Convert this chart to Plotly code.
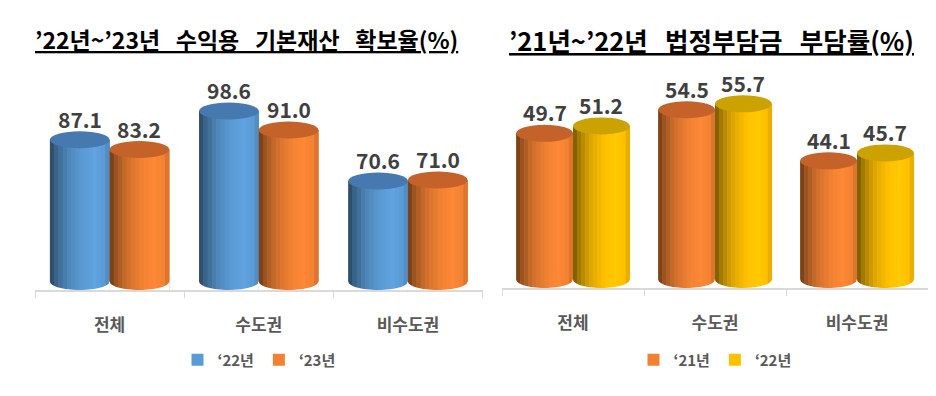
import plotly.graph_objects as go

# ---------------- data ----------------
categories = ["전체", "수도권", "비수도권"]

left_title = "’22년~’23년\u00a0\u00a0\u00a0수익용\u00a0\u00a0\u00a0기본재산\u00a0\u00a0\u00a0확보율(%)"
left_series_names = ["‘22년", "‘23년"]
left_22 = [87.1, 98.6, 70.6]
left_23 = [83.2, 91.0, 71.0]

right_title = "’21년~’22년\u00a0\u00a0\u00a0법정부담금\u00a0\u00a0\u00a0부담률(%)"
right_series_names = ["‘21년", "‘22년"]
right_21 = [49.7, 54.5, 44.1]
right_22 = [51.2, 55.7, 45.7]

# ---------------- style ----------------
FONT = "Noto Sans CJK KR"
BLUE, BLUE_TOP = "#5b9bd5", "#4679b0"
ORANGE, ORANGE_TOP = "#f28233", "#c4622a"
YELLOW, YELLOW_TOP = "#ffc000", "#cba200"
LABEL_C = "#404040"
AXIS_C = "#d9d9d9"
TICK_C = "#595959"

# page has an 8px body margin; figure is sized to fit the window
OFF = 8
W, H = 936 - OFF, 396 - OFF


def fx(X):
    return (X - OFF) / W


def fy(Y):
    return (OFF + H - Y) / H


BARGAP = 0.2
BW = (1 - BARGAP) / 2  # width of each bar in category units

left_range = [27, 111]
right_range = [18.2, 60.56]
left_ydom = [fy(290), fy(80)]
right_ydom = [fy(288), fy(80)]
left_xdom = [fx(35), fx(482.5)]
right_xdom = [fx(502), fx(928)]


def hex2rgb(h):
    h = h.lstrip("#")
    return tuple(int(h[i:i + 2], 16) for i in (0, 2, 4))


def shade(h, f):
    r, g, b = hex2rgb(h)
    return "rgb({},{},{})".format(*[max(0, min(255, int(round(c * f)))) for c in (r, g, b)])


PROFILE = [(0.0, 0.45), (0.12, 0.66), (0.3, 0.86), (0.55, 1.0), (0.75, 1.05), (0.9, 1.0), (1.0, 0.86)]


def profile(t):
    for (t0, f0), (t1, f1) in zip(PROFILE[:-1], PROFILE[1:]):
        if t0 <= t <= t1:
            return f0 + (f1 - f0) * (t - t0) / (t1 - t0)
    return 1.0


fig = go.Figure()
shapes = []
annotations = []

panels = [
    dict(xa="x", ya="y", rng=left_range, px_per_unit=210 / (left_range[1] - left_range[0]),
         series=[(left_series_names[0], left_22, BLUE, BLUE_TOP), (left_series_names[1], left_23, ORANGE, ORANGE_TOP)],
         legend="legend"),
    dict(xa="x2", ya="y2", rng=right_range, px_per_unit=208 / (right_range[1] - right_range[0]),
         series=[(right_series_names[0], right_21, ORANGE, ORANGE_TOP), (right_series_names[1], right_22, YELLOW, YELLOW_TOP)],
         legend="legend2"),
]

NSTRIP = 14
K = 0.5523
for p in panels:
    half_h = 8.5 / p["px_per_unit"]
    yb = p["rng"][0]
    for si, (name, vals, col, topcol) in enumerate(p["series"]):
        fig.add_trace(go.Bar(
            x=categories, y=vals, name=name, marker=dict(color=col, line=dict(width=0)),
            xaxis=p["xa"], yaxis=p["ya"], legend=p["legend"], hoverinfo="x+y+name",
        ))
        off = -BW / 2 if si == 0 else BW / 2
        for ci, v in enumerate(vals):
            xc = ci + off
            x0 = xc - BW / 2
            x1 = xc + BW / 2
            a = BW / 2
            # cylinder shading strips
            for k in range(NSTRIP):
                t = (k + 0.5) / NSTRIP
                shapes.append(dict(
                    type="rect", xref=p["xa"], yref=p["ya"],
                    x0=x0 + BW * k / NSTRIP, x1=x0 + BW * (k + 1) / NSTRIP + 0.002,
                    y0=yb, y1=v, fillcolor=shade(col, profile(t)),
                    line=dict(width=0), layer="above",
                ))
            # rounded bottom: white corners
            hb = half_h
            left_corner = (f"M{x0 - 0.003},{yb} L{x0 - 0.003},{yb + hb} L{x0},{yb + hb} "
                           f"C{x0},{yb + hb - K * hb} {xc - K * a},{yb} {xc},{yb} Z")
            right_corner = (f"M{x1 + 0.003},{yb} L{x1 + 0.003},{yb + hb} L{x1},{yb + hb} "
                            f"C{x1},{yb + hb - K * hb} {xc + K * a},{yb} {xc},{yb} Z")
            for path in (left_corner, right_corner):
                shapes.append(dict(type="path", xref=p["xa"], yref=p["ya"], path=path,
                                   fillcolor="white", line=dict(width=0), layer="above"))
            # top ellipse
            shapes.append(dict(
                type="circle", xref=p["xa"], yref=p["ya"],
                x0=x0, x1=x1, y0=v - half_h, y1=v + half_h,
                fillcolor=topcol, line=dict(width=0), layer="above",
            ))
            annotations.append(dict(
                xref=p["xa"], yref=p["ya"], x=xc, y=v, yshift=21, showarrow=False,
                text=f"{v:.1f}", font=dict(family=FONT, size=21, color=LABEL_C, weight="bold"),
                yanchor="middle",
            ))

# titles
for txt, xc, sz in [(left_title, 246.5, 23), (right_title, 711.5, 25.5)]:
    annotations.append(dict(
        xref="paper", yref="paper", x=fx(xc), y=fy(39), xanchor="center", yanchor="middle",
        showarrow=False, text=f"<u>{txt}</u>",
        font=dict(family=FONT, size=sz, color="#000000", weight="bold"),
    ))

xaxis_common = dict(
    type="category", showline=True, linecolor=AXIS_C, linewidth=1.5, ticks="outside",
    tickson="boundaries", ticklen=6, tickcolor=AXIS_C, showgrid=False, zeroline=False,
    tickfont=dict(family=FONT, size=17, color=TICK_C, weight="bold"), ticklabelstandoff=19,
    range=[-0.5, 2.5], fixedrange=True,
)
yaxis_common = dict(visible=False, showgrid=False, zeroline=False, fixedrange=True)

legend_common = dict(
    orientation="h", yanchor="middle", y=fy(360), xanchor="center",
    font=dict(family=FONT, size=15, color=TICK_C, weight="bold"), bgcolor="rgba(0,0,0,0)",
    itemclick=False, itemdoubleclick=False,
)

fig.update_layout(
    width=W, height=H, margin=dict(l=0, r=0, t=0, b=0),
    paper_bgcolor="white", plot_bgcolor="white",
    barmode="group", bargap=BARGAP, bargroupgap=0,
    xaxis=dict(domain=left_xdom, anchor="y", **xaxis_common),
    yaxis=dict(domain=left_ydom, anchor="x", range=left_range, **yaxis_common),
    xaxis2=dict(domain=right_xdom, anchor="y2", **xaxis_common),
    yaxis2=dict(domain=right_ydom, anchor="x2", range=right_range, **yaxis_common),
    legend=dict(x=fx(259), **legend_common),
    legend2=dict(x=fx(715), **legend_common),
    shapes=shapes, annotations=annotations, showlegend=True,
    font=dict(family=FONT),
)

fig.write_html("out.html")
